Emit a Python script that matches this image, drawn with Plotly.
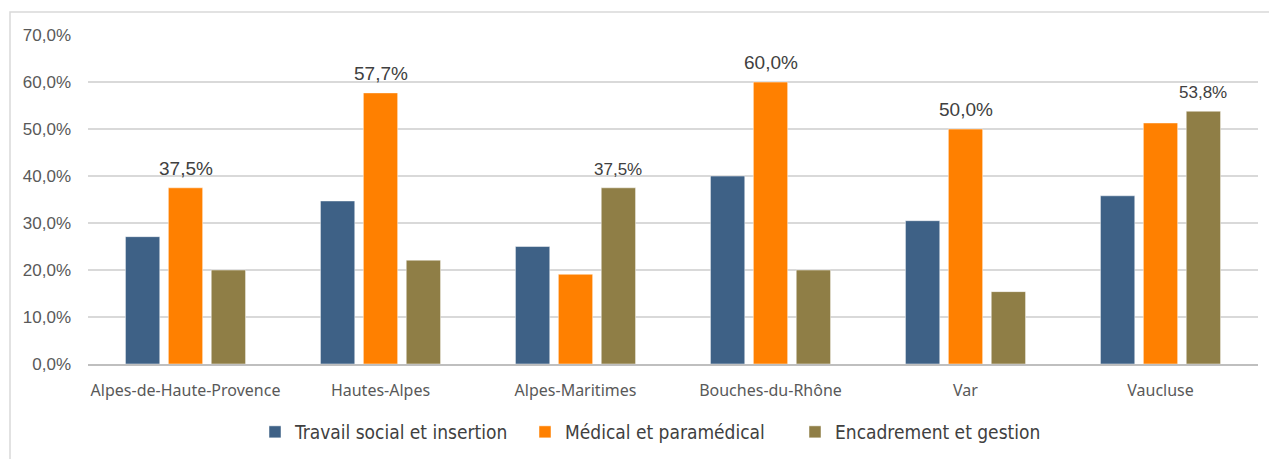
import plotly.graph_objects as go

categories = ["Alpes-de-Haute-Provence", "Hautes-Alpes", "Alpes-Maritimes",
              "Bouches-du-Rhône", "Var", "Vaucluse"]
series_names = ["Travail social et insertion", "Médical et paramédical", "Encadrement et gestion"]
travail_social = [27.1, 34.7, 25.0, 40.0, 30.5, 35.8]
medical = [37.5, 57.7, 19.1, 60.0, 50.0, 51.3]
encadrement = [20.0, 22.1, 37.5, 20.0, 15.4, 53.8]
# labels shown in the reference (series index, category index)
labelled = [(1, 0), (1, 1), (2, 2), (1, 3), (1, 4), (2, 5)]
y_ticks = [0, 10, 20, 30, 40, 50, 60, 70]
y_tick_text = ["0,0%", "10,0%", "20,0%", "30,0%", "40,0%", "50,0%", "60,0%", "70,0%"]

colors = ["#3E6186", "#FF8000", "#8F7E46"]
values = [travail_social, medical, encadrement]

fig = go.Figure()
for name, vals, col in zip(series_names, values, colors):
    fig.add_trace(go.Bar(
        x=categories, y=vals, name=name,
        marker=dict(color=col, line=dict(color="rgba(255,255,255,0.6)", width=0.8)),
        hoverinfo="skip",
    ))

# the page body has an 8px margin, so the figure is sized to fit the window
W, H = 1269, 451
ml, mr, mt, mb = 80, 19, 27, 95
plot_w = W - ml - mr
plot_h = H - mt - mb
cat_w = plot_w / len(categories)
bargap = 0.34
bargroupgap = 0.2
group_w = cat_w * (1 - bargap)
slot = group_w / 3

big = {(1, 0), (1, 1), (1, 3), (1, 4)}
for (s, c) in labelled:
    v = values[s][c]
    fig.add_annotation(
        x=categories[c], y=v, xref="x", yref="y",
        xshift=(s - 1) * slot, yshift=7, yanchor="bottom",
        text=f"{v:.1f}%".replace(".", ","), showarrow=False,
        font=dict(family="Liberation Sans, Arial, sans-serif",
                  size=19 if (s, c) in big else 17, color="#404040"),
    )

# outer chart frame (top/left edges visible, right/bottom run off the picture)
fig.add_shape(type="rect", xref="paper", yref="paper",
              x0=(2 - ml) / plot_w, x1=(W + 20 - ml) / plot_w,
              y0=-(mb + 20) / plot_h, y1=1 + (mt - 4) / plot_h,
              line=dict(color="#D9D9D9", width=1.5), fillcolor="rgba(0,0,0,0)", layer="below")

fig.update_layout(
    width=W, height=H,
    margin=dict(l=ml, r=mr, t=mt, b=mb, autoexpand=False),
    paper_bgcolor="white", plot_bgcolor="white",
    barmode="group", bargap=bargap, bargroupgap=bargroupgap,
    showlegend=True,
    legend=dict(orientation="h", x=(255 - 8 - ml) / plot_w, xanchor="left",
                y=-(432 - 364) / plot_h, yanchor="middle",
                font=dict(family="Liberation Sans Narrow, DejaVu Sans Condensed, sans-serif",
                          size=19, color="#404040"),
                itemwidth=30, traceorder="normal",
                entrywidth=225, entrywidthmode="pixels"),
    font=dict(family="Noto Sans, sans-serif", color="#595959"),
)
fig.update_xaxes(
    showgrid=False, showline=True, linecolor="#BFBFBF", linewidth=2,
    ticks="", ticklabelstandoff=11,
    tickfont=dict(family="Noto Sans, sans-serif", size=16, color="#595959"),
    fixedrange=True,
)
fig.update_yaxes(
    range=[0, 70.02], tickvals=y_ticks, ticktext=y_tick_text,
    showgrid=True, gridcolor="#D9D9D9", gridwidth=1.5,
    zeroline=False, showline=False, ticks="", ticklabelstandoff=16,
    tickfont=dict(family="Liberation Sans, Arial, sans-serif", size=17, color="#595959"),
    fixedrange=True,
)

fig.write_html("out.html")
